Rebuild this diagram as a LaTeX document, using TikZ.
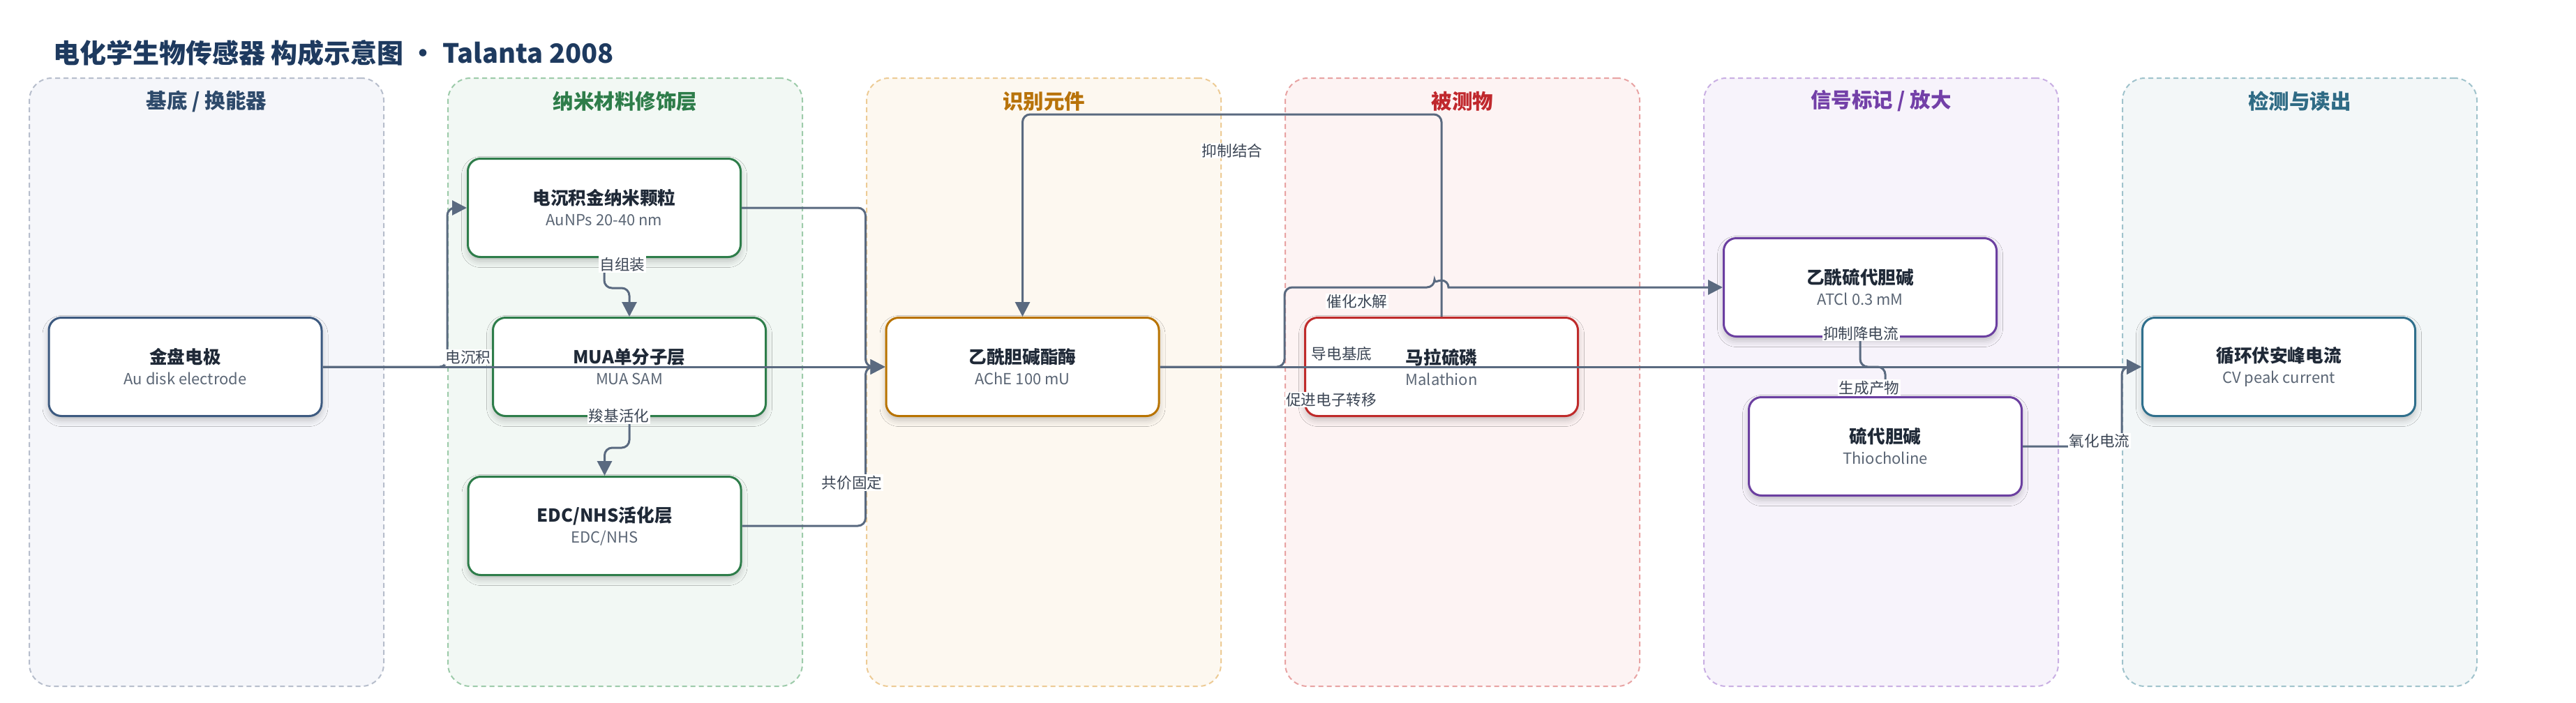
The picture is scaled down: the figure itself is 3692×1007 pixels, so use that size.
\documentclass[tikz,border=0pt]{standalone}
\usepackage{fontspec}
\setmainfont{Noto Sans CJK SC}
\usetikzlibrary{arrows.meta,shadows.blur,calc}
\definecolor{edgec}{HTML}{5A6A80}
\definecolor{titlec}{HTML}{1E3A5F}
\definecolor{txtdark}{HTML}{1F2937}
\definecolor{txtsub}{HTML}{5B6675}
\definecolor{lblc}{HTML}{3B4554}
\definecolor{lAt}{HTML}{2E4A6B}\definecolor{lAf}{HTML}{F5F6FA}\definecolor{lAd}{HTML}{B7BECC}\definecolor{nA}{HTML}{3D5A80}
\definecolor{lBt}{HTML}{2E7D4A}\definecolor{lBf}{HTML}{F2F8F4}\definecolor{lBd}{HTML}{9DCBAA}\definecolor{nB}{HTML}{2E7D4A}
\definecolor{lCt}{HTML}{B8730A}\definecolor{lCf}{HTML}{FDF8F0}\definecolor{lCd}{HTML}{EDCB95}\definecolor{nC}{HTML}{B87300}
\definecolor{lDt}{HTML}{C0282D}\definecolor{lDf}{HTML}{FDF3F3}\definecolor{lDd}{HTML}{E8A3A3}\definecolor{nD}{HTML}{BF2B2B}
\definecolor{lEt}{HTML}{7340A8}\definecolor{lEf}{HTML}{F7F3FB}\definecolor{lEd}{HTML}{C9AFE3}\definecolor{nE}{HTML}{6B3FA0}
\definecolor{lFt}{HTML}{2F6B85}\definecolor{lFf}{HTML}{F3F7F8}\definecolor{lFd}{HTML}{A0C3CC}\definecolor{nF}{HTML}{2F6F8C}
\newcommand\ntitle[1]{{\fontsize{25.6}{30}\selectfont\bfseries\color{txtdark}#1}}
\newcommand\nsub[1]{{\fontsize{22}{24}\selectfont\color{txtsub}#1}}
\tikzset{
  lane/.style 2 args={draw=#1, fill=#2, dash pattern=on 7pt off 5pt, line width=2pt,
    rounded corners=32pt, minimum width=508pt, minimum height=872pt, inner sep=0pt},
  lanetitle/.style={text=#1, font=\fontsize{29.5}{34}\selectfont\bfseries, inner sep=0pt},
  box/.style={draw=#1, line width=3pt, fill=white, rounded corners=18pt,
    minimum width=391pt, minimum height=141pt, align=center, inner sep=0pt,
    font=\fontsize{20}{24}\selectfont,
    blur shadow={shadow xshift=0pt, shadow yshift=-6pt, shadow blur radius=9pt, shadow opacity=22}},
  edge/.style={draw=edgec, line width=3pt, rounded corners=11pt,
    -{Triangle[length=21pt,width=21pt]}},
  lbl/.style={fill=white, text=lblc, font=\fontsize{21.6}{24}\selectfont, inner sep=1.5pt}
}
\begin{document}
\begin{tikzpicture}[x=1pt,y=-1pt]
\fill[white] (0,0) rectangle (3692,1007);
\useasboundingbox (0,0) rectangle (3692,1007);

% title
\node[anchor=west, text=titlec, font=\fontsize{38}{44}\selectfont\bfseries, inner sep=0pt] (title) at (76,76)
  {电化学生物传感器 构成示意图 · Talanta 2008};

% lanes
\node[lane={lAd}{lAf}] (L1) at (296,548) {};
\node[lane={lBd}{lBf}] (L2) at (896,548) {};
\node[lane={lCd}{lCf}] (L3) at (1496,548) {};
\node[lane={lDd}{lDf}] (L4) at (2096,548) {};
\node[lane={lEd}{lEf}] (L5) at (2696,548) {};
\node[lane={lFd}{lFf}] (L6) at (3296,548) {};
\node[lanetitle=lAt] (T1) at (296,145) {基底 / 换能器};
\node[lanetitle=lBt] (T2) at (896,145) {纳米材料修饰层};
\node[lanetitle=lCt] (T3) at (1496,145) {识别元件};
\node[lanetitle=lDt] (T4) at (2096,145) {被测物};
\node[lanetitle=lEt] (T5) at (2696,145) {信号标记 / 放大};
\node[lanetitle=lFt] (T6) at (3296,145) {检测与读出};

% nodes
\node[box=nA] (au)   at (265.5,526) {\ntitle{金盘电极}\\[6pt]\nsub{Au disk electrode}};
\node[box=nB] (aunp) at (866,298)   {\ntitle{电沉积金纳米颗粒}\\[6pt]\nsub{AuNPs 20-40 nm}};
\node[box=nB] (mua)  at (902,526)   {\ntitle{MUA单分子层}\\[6pt]\nsub{MUA SAM}};
\node[box=nB] (edc)  at (866.5,754) {\ntitle{EDC/NHS活化层}\\[6pt]\nsub{EDC/NHS}};
\node[box=nC] (ache) at (1465.5,526){\ntitle{乙酰胆碱酯酶}\\[6pt]\nsub{AChE 100 mU}};
\node[box=nD] (mal)  at (2066,526)  {\ntitle{马拉硫磷}\\[6pt]\nsub{Malathion}};
\node[box=nE] (atcl) at (2666,412)  {\ntitle{乙酰硫代胆碱}\\[6pt]\nsub{ATCl 0.3 mM}};
\node[box=nE] (tch)  at (2702,640)  {\ntitle{硫代胆碱}\\[6pt]\nsub{Thiocholine}};
\node[box=nF] (cv)   at (3266,526)  {\ntitle{循环伏安峰电流}\\[6pt]\nsub{CV peak current}};

\coordinate (toprow) at (0,164);
\coordinate (hop) at (mal.north |- atcl.west);

% edges
\draw[edge] (au.east) -| ([xshift=-28pt]aunp.west) -- (aunp.west);
\draw[edge] (au.east) -- (ache.west);
\draw[edge] (aunp.east) -| ([xshift=-28pt]ache.west) -- (ache.west);
\draw[edge] (edc.east) -| ([xshift=-28pt]ache.west) -- (ache.west);
\draw[edge] (aunp.south) -- ++(0,43) -| (mua.north);
\draw[edge] (mua.south) -- ++(0,44) -| (edc.north);
\draw[edge] (ache.east) -- (cv.west);
\draw[edge] (ache.east) -- (L4.west |- ache.east) |- ([xshift=-10pt]hop)
  [sharp corners] arc[start angle=180, end angle=0, radius=10pt] -- (atcl.west);
\draw[edge] (mal.north) -- (mal.north |- toprow) -| (ache.north);
\draw[edge] (atcl.south) -- (atcl.south |- au.east) -| (tch.north);
\draw[edge] (tch.east) -| ([xshift=-28pt]cv.west) -- (cv.west);

% labels
\node[lbl] (l1)  at (671,512)  {电沉积};
\node[lbl] (l2)  at (892,379)  {自组装};
\node[lbl] (l3)  at (887,596)  {羧基活化};
\node[lbl] (l4)  at (1221,692) {共价固定};
\node[lbl] (l5)  at (1766,216) {抑制结合};
\node[lbl] (l6)  at (1945,432) {催化水解};
\node[lbl] (l7)  at (1923,507) {导电基底};
\node[lbl] (l8)  at (1908,573) {促进电子转移};
\node[lbl] (l9)  at (2667,478) {抑制降电流};
\node[lbl] (l10) at (2679,556) {生成产物};
\node[lbl] (l11) at (3009,632) {氧化电流};
\end{tikzpicture}
\end{document}
